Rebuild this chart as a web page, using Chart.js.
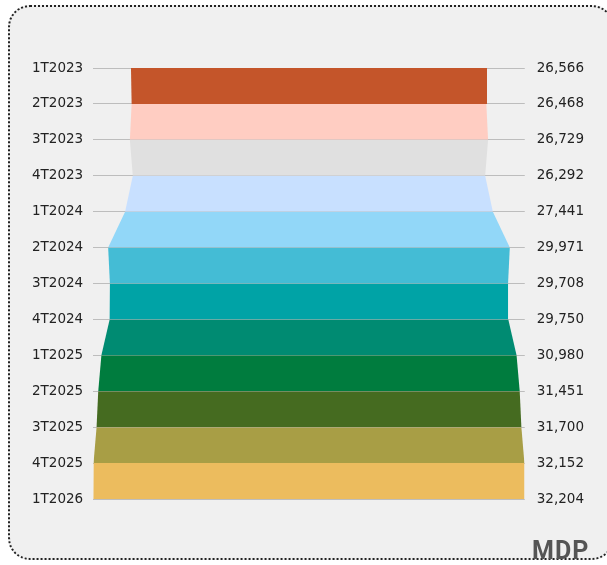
<!DOCTYPE html>
<html>
<head>
<meta charset="utf-8">
<script src="https://cdn.jsdelivr.net/npm/chart.js@4.4.1/dist/chart.umd.min.js"></script>
<style>
    html, body { margin: 0; padding: 0; background: #ffffff; overflow: hidden; }
    .card {
        position: absolute;
        left: 8px; top: 5px;
        width: 606px; height: 555px;
        background: #f0f0f0;
        border: 2px dotted #222;
        border-radius: 22px;
        box-sizing: border-box;
    }
    #chart {
        position: absolute;
        left: 0; top: 0;
    }
    .logo {
        position: absolute;
        left: 532px; top: 538px;
        font-family: Roboto, sans-serif;
        font-weight: bold;
        font-size: 25px;
        line-height: 25px;
        letter-spacing: 1px;
        color: #555555;
    }
</style>
</head>
<body>
<div class="card"></div>
<canvas id="chart" width="607" height="565"></canvas>
<div class="logo">MDP</div>
<script>
    // Quarterly values, one row per quarter
    const quarters = ['1T2023', '2T2023', '3T2023', '4T2023', '1T2024', '2T2024', '3T2024',
        '4T2024', '1T2025', '2T2025', '3T2025', '4T2025', '1T2026'];
    const values = [26566, 26468, 26729, 26292, 27441, 29971, 29708,
        29750, 30980, 31451, 31700, 32152, 32204];
    // Band colours, one per interval between consecutive quarters
    const bandColors = ['#c4552a', '#ffcdc2', '#e0e0e0', '#c8e0ff', '#92d7f8', '#44bcd5',
        '#00a3a6', '#008b72', '#007c3e', '#456b20', '#a89e45', '#ecbc5e'];

    const maxValue = Math.max(...values);
    const valueLabels = values.map(v => v.toLocaleString('en-US'));

    const ctx = document.getElementById('chart');
    const tickFont = { family: '"DejaVu Sans"', size: 13.5 };

    new Chart(ctx, {
        type: 'line',
        data: {
            labels: quarters,
            datasets: [
                {
                    label: 'right',
                    data: values,
                    borderWidth: 0,
                    pointRadius: 0,
                    fill: false
                },
                {
                    // left edge mirrored; filled up to the right edge, one colour per band
                    label: 'left',
                    data: values.map(v => -v),
                    borderWidth: 0,
                    pointRadius: 0,
                    fill: 0,
                    backgroundColor: bandColors[0],
                    segment: {
                        backgroundColor: c => bandColors[c.p0DataIndex]
                    }
                }
            ]
        },
        options: {
            indexAxis: 'y',
            responsive: false,
            animation: false,
            layout: {
                padding: { left: 22, right: 11, top: 68, bottom: 66 }
            },
            scales: {
                x: {
                    type: 'linear',
                    display: false,
                    min: -maxValue,
                    max: maxValue
                },
                y: {
                    type: 'category',
                    position: 'left',
                    offset: false,
                    border: { display: false },
                    grid: { color: '#bdbdbd', lineWidth: 1, drawTicks: false },
                    ticks: {
                        padding: 10,
                        color: '#222222',
                        font: tickFont
                    }
                },
                y2: {
                    type: 'category',
                    position: 'right',
                    labels: valueLabels,
                    offset: false,
                    border: { display: false },
                    grid: { display: false, drawTicks: false },
                    ticks: {
                        padding: 12,
                        color: '#222222',
                        font: tickFont
                    }
                }
            },
            plugins: {
                legend: { display: false },
                tooltip: { enabled: false },
                title: { display: false }
            }
        }
    });
</script>
</body>
</html>
